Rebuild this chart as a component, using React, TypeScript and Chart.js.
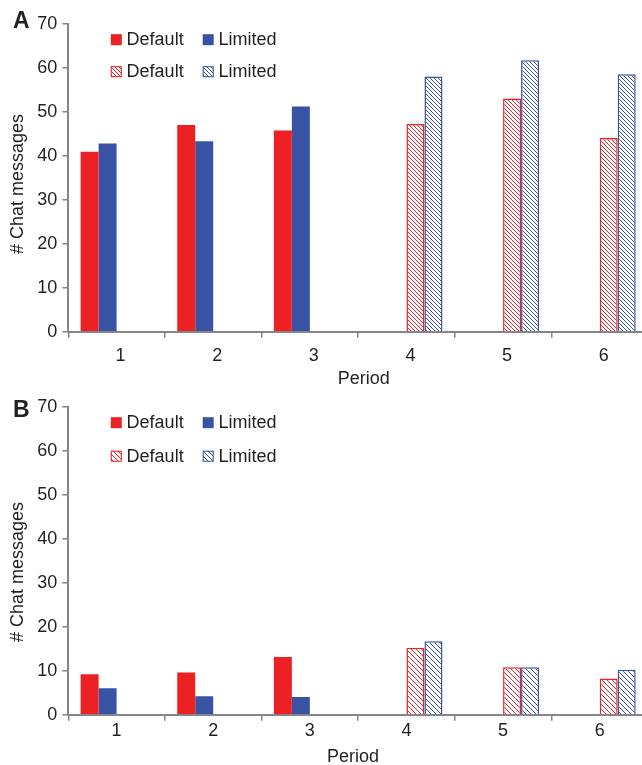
import React, { useEffect, useRef } from 'react';
import { Chart, registerables } from 'chart.js';

Chart.register(...registerables);

// ---------- data ----------
const periods = ['1', '2', '3', '4', '5', '6'];
const seriesNames = ['Default', 'Limited'];
const yMin = 0;
const yMax = 70;
const yStep = 10;
const yTitle = '# Chat messages';
const xTitle = 'Period';

const aDefaultSolid = [40.9, 47.0, 45.7, null, null, null];
const aLimitedSolid = [42.8, 43.3, 51.2, null, null, null];
const aDefaultHatched = [null, null, null, 47.2, 53.0, 44.0];
const aLimitedHatched = [null, null, null, 58.0, 61.7, 58.5];

const bDefaultSolid = [9.2, 9.6, 13.1, null, null, null];
const bLimitedSolid = [6.0, 4.2, 4.0, null, null, null];
const bDefaultHatched = [null, null, null, 15.2, 10.8, 8.2];
const bLimitedHatched = [null, null, null, 16.7, 10.8, 10.2];

// ---------- style ----------
const RED = '#ed2024';
const BLUE = '#3953a4';
const TEXT = '#231f20';
const AXIS = '#85858a';
const FONT = '"Liberation Sans", Arial, Helvetica, sans-serif';

Chart.defaults.font.family = FONT;
Chart.defaults.font.size = 18;
Chart.defaults.color = TEXT;

function makeHatch(color: string, size: number) {
  const c = document.createElement('canvas');
  c.width = size;
  c.height = size;
  const g = c.getContext('2d')!;
  g.fillStyle = '#ffffff';
  g.fillRect(0, 0, size, size);
  g.strokeStyle = color;
  g.lineWidth = 1;
  g.beginPath();
  g.moveTo(-1, -1);
  g.lineTo(size + 1, size + 1);
  g.moveTo(-1, size - 1);
  g.lineTo(1, size + 1);
  g.moveTo(size - 1, -1);
  g.lineTo(size + 1, 1);
  g.stroke();
  return g.createPattern(c, 'repeat')!;
}

const decor = {
  id: 'decor',
  afterDraw(chart: any, _args: any, opts: any) {
    const { ctx, chartArea: ca } = chart;
    ctx.save();
    ctx.fillStyle = TEXT;
    // panel letter
    ctx.font = `bold 23px ${FONT}`;
    ctx.textAlign = 'left';
    ctx.textBaseline = 'alphabetic';
    ctx.fillText(opts.letter, 13, opts.letterY);

    // legend
    ctx.font = `18px ${FONT}`;
    chart.data.datasets.forEach((ds: any, i: number) => {
      const row = i < 2 ? 0 : 1;
      const col = i % 2;
      const bx = ca.left + (col === 0 ? 42.5 : 134.4);
      const by = ca.top + (row === 0 ? 10.5 : opts.row2);
      const s = 11;
      ctx.fillStyle = ds.backgroundColor;
      ctx.fillRect(bx, by, s, s);
      if (ds.borderWidth) {
        ctx.strokeStyle = ds.borderColor;
        ctx.lineWidth = 1;
        ctx.strokeRect(bx + 0.5, by + 0.5, s - 1, s - 1);
      }
      ctx.fillStyle = TEXT;
      ctx.fillText(ds.label, bx + 15.8, by + 11);
    });

    // y title
    ctx.save();
    ctx.translate(23, (ca.top + ca.bottom) / 2 + opts.yTitleDy);
    ctx.rotate(-Math.PI / 2);
    ctx.textAlign = 'center';
    ctx.textBaseline = 'alphabetic';
    ctx.fillText(yTitle, 0, 0);
    ctx.restore();

    // x title
    ctx.textAlign = 'center';
    ctx.textBaseline = 'alphabetic';
    ctx.fillText(xTitle, (ca.left + ca.right) / 2 + opts.xTitleDx, ca.bottom + opts.xTitleDy);
    ctx.restore();
  },
};

type PanelProps = {
  top: number;
  letter: string;
  letterY: number;
  solidDefault: (number | null)[];
  solidLimited: (number | null)[];
  hatchedDefault: (number | null)[];
  hatchedLimited: (number | null)[];
  hatchSize: number;
  labelPad: number;
  labelOffset: number;
  xTitleDx: number;
  xTitleDy: number;
  yTitleDy: number;
  row2: number;
};

function Panel(p: PanelProps) {
  const ref = useRef<HTMLCanvasElement>(null);
  useEffect(() => {
    const hatchRed = makeHatch(RED, p.hatchSize);
    const hatchBlue = makeHatch(BLUE, p.hatchSize);
    const chart = new Chart(ref.current!, {
      type: 'bar',
      data: {
        labels: periods,
        datasets: [
          { label: seriesNames[0], data: p.solidDefault, backgroundColor: RED, borderWidth: 0 },
          { label: seriesNames[1], data: p.solidLimited, backgroundColor: BLUE, borderWidth: 0 },
          { label: seriesNames[0], data: p.hatchedDefault, backgroundColor: hatchRed, borderColor: RED, borderWidth: 1.5 },
          { label: seriesNames[1], data: p.hatchedLimited, backgroundColor: hatchBlue, borderColor: BLUE, borderWidth: 1.5 },
        ],
      },
      options: {
        animation: false,
        responsive: false,
        devicePixelRatio: 1,
        layout: { padding: { top: 23.7, right: 2, left: 0, bottom: 0 } },
        datasets: { bar: { categoryPercentage: 0.745, barPercentage: 1 } },
        plugins: {
          legend: { display: false },
          tooltip: { enabled: false },
          decor: {
            letter: p.letter,
            letterY: p.letterY,
            xTitleDx: p.xTitleDx,
            xTitleDy: p.xTitleDy,
            yTitleDy: p.yTitleDy,
            row2: p.row2,
          },
        } as any,
        scales: {
          x: {
            afterFit: (s: any) => {
              s.height = 400 - 331.7;
            },
            grid: { drawOnChartArea: false, drawTicks: true, tickLength: 6, color: AXIS, lineWidth: 1.5 },
            border: { display: true, color: AXIS, width: 2 },
            ticks: { padding: p.labelPad, labelOffset: p.labelOffset, color: TEXT, font: { size: 18 } },
          },
          y: {
            min: yMin,
            max: yMax,
            afterFit: (s: any) => {
              s.width = 68.3;
            },
            grid: { drawOnChartArea: false, drawTicks: true, tickLength: 6, color: AXIS, lineWidth: 1.5 },
            border: { display: true, color: AXIS, width: 2 },
            ticks: { stepSize: yStep, padding: 5, color: TEXT, font: { size: 18 } },
          },
        },
      },
      plugins: [decor],
    });
    return () => chart.destroy();
  }, []);
  return (
    <div style={{ position: 'absolute', left: 0, top: p.top, width: 650, height: 400 }}>
      <canvas ref={ref} width={650} height={400} style={{ display: 'block' }} />
    </div>
  );
}

export default function App() {
  return (
    <div
      style={{
        position: 'fixed',
        left: 0,
        top: 0,
        width: 642,
        height: 765,
        overflow: 'hidden',
        background: '#ffffff',
      }}
    >
      <Panel
        top={0}
        letter="A"
        letterY={28.3}
        solidDefault={aDefaultSolid}
        solidLimited={aLimitedSolid}
        hatchedDefault={aDefaultHatched}
        hatchedLimited={aLimitedHatched}
        hatchSize={4}
        labelPad={8}
        labelOffset={4}
        xTitleDx={5.5}
        xTitleDy={52.6}
        yTitleDy={6.3}
        row2={42.5}
      />
      <Panel
        top={383}
        letter="B"
        letterY={34.3}
        solidDefault={bDefaultSolid}
        solidLimited={bLimitedSolid}
        hatchedDefault={bDefaultHatched}
        hatchedLimited={bLimitedHatched}
        hatchSize={5}
        labelPad={0}
        labelOffset={0}
        xTitleDx={-5.2}
        xTitleDy={47.3}
        yTitleDy={11.3}
        row2={44}
      />
    </div>
  );
}
